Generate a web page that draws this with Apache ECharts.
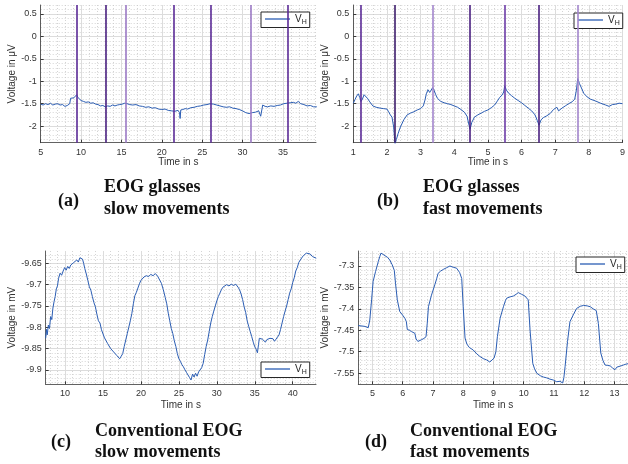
<!DOCTYPE html>
<html>
<head>
<meta charset="utf-8">
<script src="https://cdn.jsdelivr.net/npm/echarts@6/dist/echarts.min.js"></script>
<style>
  html, body { margin: 0; padding: 0; background: #fff; }
  #chart-container { width: 628px; height: 464px; }
</style>
</head>
<body>
<div id="chart-container"></div>
<script>
'use strict';

// (a) EOG glasses, slow movements: [time s, voltage uV]
const sigA = [[5,-1.51],[5.3,-1.53],[5.6,-1.50],[5.9,-1.52],[6.2,-1.49],[6.5,-1.53],[6.8,-1.51],[7.1,-1.50],[7.4,-1.53],[7.7,-1.52],[8.0,-1.56],[8.3,-1.54],[8.6,-1.50],[8.7,-1.38],[8.9,-1.40],[9.1,-1.37],[9.3,-1.33],[9.46,-1.30],[9.6,-1.36],[9.8,-1.40],[10.0,-1.43],[10.3,-1.45],[10.6,-1.47],[10.9,-1.46],[11.2,-1.49],[11.5,-1.48],[11.8,-1.51],[12.1,-1.52],[12.4,-1.55],[12.7,-1.54],[13.0,-1.57],[13.3,-1.55],[13.6,-1.56],[13.9,-1.53],[14.2,-1.55],[14.5,-1.53],[14.8,-1.52],[15.1,-1.51],[15.4,-1.49],[15.7,-1.50],[16.0,-1.52],[16.4,-1.53],[16.8,-1.52],[17.2,-1.55],[17.6,-1.56],[18.0,-1.58],[18.4,-1.57],[18.8,-1.60],[19.2,-1.59],[19.6,-1.62],[20.0,-1.63],[20.4,-1.62],[20.8,-1.65],[21.2,-1.66],[21.6,-1.67],[22.0,-1.65],[22.2,-1.70],[22.27,-1.83],[22.35,-1.64],[22.6,-1.63],[22.9,-1.61],[23.2,-1.62],[23.6,-1.59],[24.0,-1.58],[24.4,-1.56],[24.8,-1.55],[25.2,-1.53],[25.6,-1.52],[26.0,-1.50],[26.4,-1.51],[26.8,-1.53],[27.2,-1.55],[27.6,-1.57],[28.0,-1.58],[28.4,-1.57],[28.8,-1.60],[29.2,-1.61],[29.6,-1.63],[30.0,-1.66],[30.4,-1.70],[30.8,-1.72],[31.2,-1.70],[31.6,-1.69],[32.0,-1.66],[32.15,-1.62],[32.25,-1.78],[32.5,-1.53],[32.8,-1.56],[33.1,-1.57],[33.5,-1.55],[33.9,-1.56],[34.3,-1.54],[34.7,-1.53],[35.1,-1.50],[35.5,-1.49],[35.9,-1.48],[36.3,-1.47],[36.6,-1.49],[36.9,-1.45],[37.2,-1.50],[37.6,-1.52],[38.0,-1.55],[38.4,-1.54],[38.8,-1.57],[39.2,-1.57]];

// (b) EOG glasses, fast movements
const sigB = [[1.0,-1.49],[1.05,-1.41],[1.1,-1.33],[1.15,-1.28],[1.19,-1.36],[1.23,-1.45],[1.27,-1.40],[1.32,-1.30],[1.36,-1.31],[1.42,-1.38],[1.49,-1.46],[1.58,-1.55],[1.68,-1.58],[1.8,-1.60],[1.9,-1.61],[1.95,-1.63],[2.0,-1.62],[2.05,-1.68],[2.1,-1.75],[2.15,-1.80],[2.2,-2.02],[2.24,-2.40],[2.28,-2.30],[2.33,-2.17],[2.4,-2.02],[2.5,-1.86],[2.6,-1.75],[2.7,-1.71],[2.8,-1.68],[2.9,-1.64],[3.0,-1.61],[3.08,-1.55],[3.13,-1.42],[3.17,-1.28],[3.22,-1.19],[3.27,-1.25],[3.31,-1.23],[3.36,-1.14],[3.4,-1.20],[3.45,-1.30],[3.5,-1.38],[3.6,-1.45],[3.7,-1.48],[3.8,-1.50],[3.9,-1.52],[4.0,-1.55],[4.1,-1.58],[4.2,-1.63],[4.3,-1.69],[4.38,-1.78],[4.44,-1.98],[4.47,-2.07],[4.52,-1.92],[4.6,-1.80],[4.7,-1.75],[4.8,-1.71],[4.9,-1.67],[5.0,-1.64],[5.1,-1.59],[5.2,-1.53],[5.3,-1.42],[5.35,-1.36],[5.42,-1.31],[5.47,-1.24],[5.5,-1.10],[5.55,-1.20],[5.62,-1.27],[5.7,-1.32],[5.8,-1.38],[5.9,-1.43],[6.0,-1.48],[6.1,-1.54],[6.2,-1.60],[6.3,-1.66],[6.4,-1.75],[6.47,-1.88],[6.52,-1.98],[6.58,-1.86],[6.65,-1.81],[6.75,-1.77],[6.85,-1.72],[6.95,-1.63],[7.0,-1.60],[7.05,-1.58],[7.1,-1.66],[7.2,-1.60],[7.3,-1.55],[7.4,-1.50],[7.5,-1.46],[7.58,-1.40],[7.63,-1.20],[7.67,-0.94],[7.72,-1.05],[7.78,-1.15],[7.85,-1.27],[7.95,-1.35],[8.05,-1.40],[8.2,-1.44],[8.35,-1.49],[8.5,-1.53],[8.6,-1.56],[8.65,-1.60],[8.7,-1.52],[8.8,-1.51],[8.9,-1.49],[9.0,-1.50]];

// (c) conventional EOG, slow movements: [time s, voltage mV]
const sigC = [[7.45,-9.826],[7.55,-9.805],[7.65,-9.818],[7.8,-9.795],[7.95,-9.803],[8.1,-9.775],[8.25,-9.782],[8.4,-9.755],[8.55,-9.74],[8.7,-9.728],[8.85,-9.71],[9.0,-9.703],[9.15,-9.685],[9.35,-9.673],[9.55,-9.678],[9.75,-9.668],[9.95,-9.66],[10.15,-9.666],[10.35,-9.657],[10.55,-9.662],[10.75,-9.654],[10.95,-9.658],[11.15,-9.648],[11.35,-9.652],[11.55,-9.642],[11.75,-9.647],[11.95,-9.637],[12.15,-9.633],[12.3,-9.64],[12.45,-9.65],[12.6,-9.662],[12.8,-9.675],[13.0,-9.69],[13.2,-9.705],[13.4,-9.713],[13.6,-9.728],[13.8,-9.742],[14.0,-9.752],[14.2,-9.77],[14.4,-9.785],[14.6,-9.79],[14.8,-9.806],[15.0,-9.81],[15.2,-9.825],[15.4,-9.822],[15.6,-9.838],[15.8,-9.834],[16.0,-9.85],[16.2,-9.848],[16.4,-9.858],[16.6,-9.856],[16.8,-9.866],[17.0,-9.862],[17.2,-9.874],[17.4,-9.868],[17.6,-9.862],[17.8,-9.845],[18.0,-9.83],[18.2,-9.815],[18.4,-9.8],[18.6,-9.785],[18.8,-9.768],[19.0,-9.745],[19.2,-9.726],[19.4,-9.718],[19.6,-9.708],[19.8,-9.698],[20.0,-9.69],[20.2,-9.686],[20.4,-9.682],[20.7,-9.679],[21.0,-9.681],[21.3,-9.676],[21.6,-9.679],[21.9,-9.674],[22.2,-9.68],[22.45,-9.684],[22.7,-9.697],[22.95,-9.712],[23.2,-9.73],[23.4,-9.745],[23.6,-9.767],[23.8,-9.785],[24.0,-9.803],[24.2,-9.815],[24.4,-9.832],[24.6,-9.845],[24.8,-9.862],[25.0,-9.874],[25.2,-9.88],[25.4,-9.888],[25.6,-9.893],[25.8,-9.9],[26.0,-9.906],[26.2,-9.91],[26.4,-9.918],[26.6,-9.924],[26.8,-9.91],[27.0,-9.917],[27.2,-9.908],[27.4,-9.915],[27.6,-9.905],[27.8,-9.908],[28.0,-9.895],[28.2,-9.885],[28.4,-9.864],[28.6,-9.845],[28.8,-9.83],[29.0,-9.81],[29.2,-9.79],[29.4,-9.775],[29.6,-9.762],[29.8,-9.75],[30.0,-9.738],[30.2,-9.728],[30.4,-9.72],[30.6,-9.712],[30.8,-9.706],[31.0,-9.703],[31.3,-9.7],[31.6,-9.703],[31.9,-9.699],[32.2,-9.702],[32.5,-9.699],[32.8,-9.706],[33.0,-9.712],[33.2,-9.722],[33.4,-9.735],[33.6,-9.752],[33.8,-9.765],[34.0,-9.785],[34.2,-9.798],[34.4,-9.81],[34.6,-9.822],[34.8,-9.835],[35.0,-9.846],[35.2,-9.852],[35.35,-9.86],[35.5,-9.84],[35.6,-9.826],[35.8,-9.822],[36.0,-9.828],[36.2,-9.825],[36.4,-9.835],[36.6,-9.829],[36.8,-9.832],[37.0,-9.826],[37.2,-9.83],[37.4,-9.827],[37.6,-9.833],[37.8,-9.828],[38.0,-9.83],[38.2,-9.818],[38.4,-9.805],[38.6,-9.79],[38.8,-9.775],[39.0,-9.762],[39.2,-9.75],[39.4,-9.735],[39.6,-9.72],[39.8,-9.71],[40.0,-9.695],[40.2,-9.684],[40.4,-9.668],[40.6,-9.66],[40.8,-9.648],[41.0,-9.642],[41.2,-9.638],[41.4,-9.632],[41.6,-9.63],[41.8,-9.626],[42.0,-9.63],[42.3,-9.628],[42.6,-9.634],[42.85,-9.632],[43.1,-9.638]];

// (d) conventional EOG, fast movements
const sigD = [[4.53,-7.439],[4.65,-7.44],[4.75,-7.441],[4.86,-7.444],[4.91,-7.426],[4.97,-7.379],[5.02,-7.336],[5.1,-7.313],[5.15,-7.31],[5.19,-7.29],[5.24,-7.278],[5.28,-7.27],[5.35,-7.273],[5.41,-7.272],[5.5,-7.28],[5.57,-7.286],[5.65,-7.297],[5.72,-7.31],[5.76,-7.34],[5.82,-7.379],[5.9,-7.406],[6.0,-7.415],[6.07,-7.422],[6.12,-7.43],[6.15,-7.448],[6.22,-7.45],[6.29,-7.453],[6.4,-7.457],[6.44,-7.47],[6.5,-7.476],[6.56,-7.474],[6.62,-7.472],[6.7,-7.469],[6.77,-7.465],[6.81,-7.434],[6.85,-7.395],[6.95,-7.368],[7.06,-7.344],[7.12,-7.33],[7.17,-7.317],[7.25,-7.312],[7.34,-7.308],[7.45,-7.304],[7.56,-7.30],[7.67,-7.303],[7.78,-7.305],[7.88,-7.315],[7.95,-7.329],[8.0,-7.395],[8.06,-7.468],[8.12,-7.482],[8.2,-7.49],[8.33,-7.496],[8.45,-7.505],[8.55,-7.511],[8.66,-7.516],[8.77,-7.519],[8.88,-7.524],[8.94,-7.523],[9.02,-7.515],[9.08,-7.5],[9.13,-7.465],[9.22,-7.422],[9.33,-7.395],[9.4,-7.38],[9.44,-7.375],[9.55,-7.372],[9.66,-7.37],[9.75,-7.366],[9.82,-7.362],[9.93,-7.366],[10.04,-7.37],[10.15,-7.379],[10.21,-7.449],[10.3,-7.527],[10.36,-7.54],[10.43,-7.55],[10.55,-7.556],[10.65,-7.559],[10.76,-7.561],[10.87,-7.564],[10.98,-7.566],[11.09,-7.57],[11.2,-7.569],[11.29,-7.573],[11.33,-7.56],[11.37,-7.534],[11.45,-7.476],[11.53,-7.43],[11.64,-7.414],[11.75,-7.399],[11.87,-7.394],[11.98,-7.392],[12.1,-7.393],[12.2,-7.395],[12.3,-7.4],[12.4,-7.404],[12.47,-7.434],[12.55,-7.503],[12.62,-7.52],[12.69,-7.531],[12.78,-7.532],[12.86,-7.533],[12.94,-7.538],[13.02,-7.542],[13.08,-7.536],[13.13,-7.534],[13.22,-7.533],[13.3,-7.531],[13.38,-7.529],[13.45,-7.528]];

// movement markers (time s)
const marksA = [9.46, 13.06, 15.54, 21.53, 26.03, 31.03, 35.58];
const marksB = [1.23, 2.23, 3.37, 4.47, 5.49, 6.51, 7.66];

// tick labels
const xTicksA = [5, 10, 15, 20, 25, 30, 35];
const xTicksB = [1, 2, 3, 4, 5, 6, 7, 8, 9];
const xTicksC = [10, 15, 20, 25, 30, 35, 40];
const xTicksD = [5, 6, 7, 8, 9, 10, 11, 12, 13];
const yTicksAB = [-2, -1.5, -1, -0.5, 0, 0.5];
const yTicksC = [-9.9, -9.85, -9.8, -9.75, -9.7, -9.65];
const yTicksD = [-7.55, -7.5, -7.45, -7.4, -7.35, -7.3];

const markColorsA = ['#5b2a96', '#4a2080', '#9a78c4', '#5b2a96', '#5b2a96', '#9c7ac6', '#5b2a96'];
const markColorsB = ['#5b2a96', '#3e1d6c', '#a285cc', '#4a2080', '#6b3aa6', '#4a2080', '#a285cc'];

const TXT = '#333';
const LINE = '#2b5db3';

function minorVals(min, max, step, majors) {
    const out = [];
    const start = Math.ceil(min / step - 1e-9);
    for (let k = start; k * step <= max + 1e-9; k++) {
        const v = Math.round(k * step * 1000) / 1000;
        if (!majors.some((m) => Math.abs(m - v) < 1e-6)) {
            out.push(v);
        }
    }
    return out;
}

function axisPair(dim, gridIndex, min, max, majors, minorStep, name, nameGap) {
    const main = {
        type: 'value',
        gridIndex: gridIndex,
        min: min,
        max: max,
        name: name,
        nameLocation: 'middle',
        nameGap: nameGap,
        nameTextStyle: { color: TXT, fontSize: 10, fontFamily: 'Liberation Sans' },
        axisLine: { show: true, onZero: false, lineStyle: { color: '#3a3a3a', width: 0.8 } },
        axisTick: { show: true, inside: true, length: 3, customValues: majors, lineStyle: { color: '#3a3a3a' } },
        axisLabel: { customValues: majors, color: TXT, fontSize: 9, fontFamily: 'Liberation Sans', margin: dim === 'x' ? 5 : 4 },
        splitLine: { show: true, lineStyle: { color: '#dcdcdc', width: 1 } }
    };
    const minorAxis = {
        type: 'value',
        gridIndex: gridIndex,
        min: min,
        max: max,
        axisLine: { show: false },
        axisTick: { show: false, customValues: minorVals(min, max, minorStep, majors) },
        axisLabel: { show: false },
        splitLine: { show: true, lineStyle: { color: '#c9c9c9', width: 0.8, type: [1, 2] } }
    };
    if (dim === 'x') {
        main.position = 'bottom';
        minorAxis.position = 'bottom';
    } else {
        main.position = 'left';
        minorAxis.position = 'left';
    }
    return [main, minorAxis];
}

const xAxes = [].concat(
    axisPair('x', 0, 5, 39.1, xTicksA, 1, 'Time in s', 15),
    axisPair('x', 1, 1, 9, xTicksB, 0.2, 'Time in s', 15),
    axisPair('x', 2, 7.45, 43.07, xTicksC, 1, 'Time in s', 16),
    axisPair('x', 3, 4.53, 13.45, xTicksD, 0.2, 'Time in s', 16)
);
const yAxes = [].concat(
    axisPair('y', 0, -2.37, 0.7, yTicksAB, 0.1, 'Voltage in \u03bcV', 21),
    axisPair('y', 1, -2.37, 0.7, yTicksAB, 0.1, 'Voltage in \u03bcV', 21),
    axisPair('y', 2, -9.934, -9.621, yTicksC, 0.01, 'Voltage in mV', 28),
    axisPair('y', 3, -7.576, -7.265, yTicksD, 0.01, 'Voltage in mV', 28)
);

function markLines(xs, colors) {
    return {
        symbol: 'none',
        silent: true,
        label: { show: false },
        data: xs.map((x, i) => ({ xAxis: x, lineStyle: { color: colors[i], width: 1.6, type: 'solid' } }))
    };
}

function series(i, data, marks) {
    const s = {
        name: 'V_H',
        type: 'line',
        xAxisIndex: i * 2,
        yAxisIndex: i * 2,
        data: data,
        symbol: 'none',
        lineStyle: { color: LINE, width: 1 },
        itemStyle: { color: LINE },
        animation: false
    };
    if (marks) {
        s.markLine = markLines(marks[0], marks[1]);
    }
    return s;
}

function legend(left, top) {
    return {
        left: left,
        top: top,
        orient: 'horizontal',
        data: [{ name: 'V_H', icon: 'rect' }],
        backgroundColor: '#fff',
        borderColor: '#262626',
        borderWidth: 1,
        borderRadius: 0,
        padding: [2, 3, 2, 4],
        itemWidth: 25,
        itemHeight: 1.3,
        selectedMode: false,
        itemStyle: { color: LINE, borderWidth: 0 },
        formatter: () => '{v|V}{s|H}',
        textStyle: {
            color: '#262626',
            rich: {
                v: { fontSize: 10, fontFamily: 'Liberation Sans', color: '#262626' },
                s: { fontSize: 7, fontFamily: 'Liberation Sans', color: '#262626', padding: [6, 0, 0, 0] }
            }
        }
    };
}

function caption(x, y, text, size) {
    return {
        type: 'text',
        left: x,
        top: y,
        style: {
            text: text,
            fill: '#111',
            font: 'bold ' + (size || 18) + 'px "Liberation Serif"',
            textVerticalAlign: 'middle'
        }
    };
}

const myChart = echarts.init(document.getElementById('chart-container'), null, { renderer: 'canvas' });

const option = {
    animation: false,
    backgroundColor: '#fff',
    grid: [
        { left: 40.7, top: 5, width: 275.3, height: 137.7 },
        { left: 353.3, top: 5, width: 274.7, height: 137.7 },
        { left: 45.7, top: 251, width: 270.3, height: 133.3 },
        { left: 358.3, top: 251, width: 269.7, height: 133.3 }
    ],
    xAxis: xAxes,
    yAxis: yAxes,
    legend: [legend(261, 12), legend(574, 13), legend(261, 362), legend(576, 257)],
    series: [
        series(0, sigA, [marksA, markColorsA]),
        series(1, sigB, [marksB, markColorsB]),
        series(2, sigC),
        series(3, sigD)
    ],
    graphic: [
        caption(58, 192, '(a)'),
        caption(104, 178, 'EOG glasses'),
        caption(104, 200, 'slow movements'),
        caption(377, 192, '(b)'),
        caption(423, 178, 'EOG glasses'),
        caption(423, 200, 'fast movements'),
        caption(51, 433, '(c)'),
        caption(95, 422, 'Conventional EOG'),
        caption(95, 443, 'slow movements'),
        caption(365, 433, '(d)'),
        caption(410, 422, 'Conventional EOG'),
        caption(410, 443, 'fast movements')
    ]
};
myChart.setOption(option);

window.addEventListener('resize', myChart.resize);
</script>
</body>
</html>
